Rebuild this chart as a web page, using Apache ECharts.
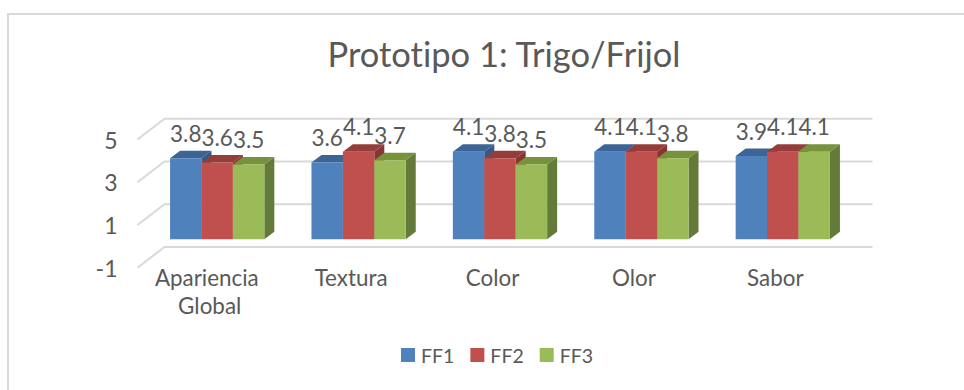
<!DOCTYPE html>
<html><head><meta charset="utf-8">
<style>html,body{margin:0;padding:0;background:#fff}#c{width:964px;height:390px}
svg text{font-variant-ligatures:none;font-feature-settings:"liga" 0,"clig" 0}</style>
<script src="https://cdn.jsdelivr.net/npm/echarts@6/dist/echarts.min.js"></script>
</head><body><div id="c"></div>
<script>
const titleText = 'Prototipo 1: Trigo/Frijol';
const categories = ['Apariencia Global', 'Textura', 'Color', 'Olor', 'Sabor'];
const ff1 = [3.8, 3.6, 4.1, 4.1, 3.9];
const ff2 = [3.6, 4.1, 3.8, 4.1, 4.1];
const ff3 = [3.5, 3.7, 3.5, 3.8, 4.1];
const wallTicks = [-1, 1, 3, 5];

const FONT = 'Lato';
const TEXT = '#595959';
const PLANE = {dx: 9, dy: -7};
const DEPTH = {dx: 10, dy: -7.5};
const WALL = {dx: 27, dy: -20.7};

function barRender(idx, colors) {
  return function (params, api) {
    const cat = api.value(0), v = api.value(1);
    const band = api.size([1, 0])[0];
    const w = band * 2 / 9;
    const c = api.coord([cat, v]);
    const z = api.coord([cat, 0]);
    const x0 = c[0] + PLANE.dx + (idx - 1.5) * w;
    const x1 = x0 + w;
    const top = c[1] + PLANE.dy, bot = z[1] + PLANE.dy;
    const d = DEPTH;
    return {type: 'group', children: [
      {type: 'polygon', shape: {points: [[x1, top], [x1 + d.dx, top + d.dy], [x1 + d.dx, bot + d.dy], [x1, bot]]}, style: {fill: colors.side}},
      {type: 'polygon', shape: {points: [[x0, top], [x0 + d.dx, top + d.dy], [x1 + d.dx, top + d.dy], [x1, top]]}, style: {fill: colors.top}},
      {type: 'rect', shape: {x: x0, y: top, width: w, height: bot - top}, style: {fill: colors.front}},
      {type: 'text', z2: 100, style: {x: (x0 + x1) / 2, y: top - 25, text: v.toFixed(1), fill: TEXT, font: '22.5px ' + FONT, align: 'center', verticalAlign: 'middle'}}
    ]};
  };
}
function barSeries(name, data, idx, colors) {
  return {
    name, type: 'custom', data: data.map((v, i) => [i, v]),
    encode: {x: 0, y: 1}, itemStyle: {color: colors.front}, clip: false, z: 3 + idx,
    renderItem: barRender(idx, colors)
  };
}

const chart = echarts.init(document.getElementById('c'), null, {renderer: 'svg'});
chart.setOption({
  animation: false,
  backgroundColor: '#fff',
  textStyle: {fontFamily: FONT},
  title: {text: titleText, left: 499, top: 31, textAlign: 'center',
    textStyle: {fontFamily: FONT, fontSize: 34.5, fontWeight: 'normal', color: TEXT}},
  legend: {left: 396, top: 340, itemWidth: 14, itemHeight: 14, itemGap: 16, icon: 'rect',
    textStyle: {fontFamily: FONT, fontSize: 19.5, color: TEXT, padding: [0, 0, 0, 1]},
    data: ['FF1', 'FF2', 'FF3']},
  grid: {left: 137.5, width: 707, top: 139.5, height: 128.2, containLabel: false},
  xAxis: {type: 'category', data: categories,
    axisLine: {show: false, onZero: false}, axisTick: {show: false}, splitLine: {show: false},
    axisLabel: {color: TEXT, fontFamily: FONT, fontSize: 22.4, margin: -4, lineHeight: 28, width: 130, overflow: 'break', interval: 0, padding: [0, 0, 0, 3]}},
  yAxis: {type: 'value', min: -1, max: 5, interval: 1,
    axisLine: {show: false}, axisTick: {show: false}, splitLine: {show: false},
    axisLabel: {color: TEXT, fontFamily: FONT, fontSize: 23, margin: 20,
      formatter: v => wallTicks.includes(v) ? String(v) : ''}},
  graphic: [{type: 'rect', shape: {x: 8, y: 14, width: 960, height: 380}, style: {fill: 'none', stroke: '#d9d9d9', lineWidth: 2}, silent: true}],
  series: [
    {name: 'wall', type: 'custom', data: wallTicks.map(v => [0, v]), encode: {x: 0, y: 1}, z: 1, clip: false, silent: true,
      renderItem(params, api) {
        const y = api.coord([0, api.value(1)])[1];
        const s = params.coordSys;
        return {type: 'polyline', shape: {points: [[s.x, y], [s.x + WALL.dx, y + WALL.dy], [s.x + s.width + WALL.dx + 1, y + WALL.dy]]},
          style: {fill: 'none', stroke: '#d9d9d9', lineWidth: 2}};
      }},
    barSeries('FF1', ff1, 0, {front: '#4f81bd', top: '#3c6494', side: '#355a87'}),
    barSeries('FF2', ff2, 1, {front: '#c0504d', top: '#953d3b', side: '#853634'}),
    barSeries('FF3', ff3, 2, {front: '#9bbb59', top: '#76923c', side: '#647a39'})
  ]
});
</script></body></html>
